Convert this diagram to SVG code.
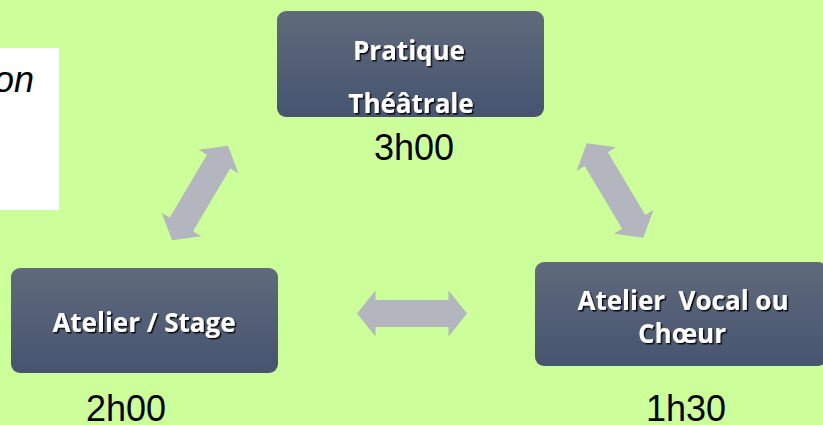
<svg xmlns="http://www.w3.org/2000/svg" width="823" height="425" viewBox="0 0 823 425">
<style>
.node-text{font-family:"Open Sans","Liberation Sans",sans-serif;font-weight:bold;font-size:26px;fill:#ffffff;text-anchor:middle;filter:url(#shadow)}
.time{font-family:"Liberation Sans",Arial,sans-serif;font-size:36px;fill:#000000;text-anchor:middle}
.box{fill:url(#boxgrad)}
.arrow{fill:#b3b5bf}
</style>
<defs>
<linearGradient id="boxgrad" x1="0" y1="0" x2="0" y2="1">
<stop offset="0" stop-color="#606a7c"/>
<stop offset="1" stop-color="#465470"/>
</linearGradient>
<filter id="shadow" x="-10%" y="-20%" width="120%" height="150%">
<feDropShadow dx="1.5" dy="1.5" stdDeviation="0.4" flood-color="#000000" flood-opacity="0.9"/>
</filter>
<path id="dblarrow" d="M-55,0 L-36.5,-23 L-36.5,-13.5 L36.5,-13.5 L36.5,-23 L55,0 L36.5,23 L36.5,13.5 L-36.5,13.5 L-36.5,23 Z"/>
</defs>
<rect x="0" y="0" width="823" height="425" fill="#ccff99"/>
<g id="note">
<rect x="0" y="48" width="59" height="162" fill="#ffffff"/>
<text x="34" y="92" font-family="Liberation Sans,Arial,sans-serif" font-style="italic" font-size="36" text-anchor="end" fill="#000000">on</text>
</g>
<g id="connectors" class="arrow">
<use href="#dblarrow" transform="translate(200,193) rotate(-59.4)"/>
<use href="#dblarrow" transform="translate(615,190.5) rotate(59.1)"/>
<use href="#dblarrow" transform="translate(412,313.5)"/>
</g>
<g id="node-pratique">
<rect class="box" x="277" y="11" width="267" height="106" rx="9"/>
<text class="node-text" x="409" y="60">Pratique</text>
<text class="node-text" x="411" y="113">Théâtrale</text>
<text class="time" x="414" y="160">3h00</text>
</g>
<g id="node-atelier-stage">
<rect class="box" x="11" y="268" width="267" height="105" rx="9"/>
<text class="node-text" x="144" y="332">Atelier / Stage</text>
<text class="time" x="126" y="421">2h00</text>
</g>
<g id="node-atelier-vocal">
<rect class="box" x="535" y="262" width="292" height="104" rx="9"/>
<text class="node-text" x="683" y="310" xml:space="preserve">Atelier  Vocal ou</text>
<text class="node-text" x="682" y="343">Chœur</text>
<text class="time" x="686" y="421">1h30</text>
</g>
</svg>
